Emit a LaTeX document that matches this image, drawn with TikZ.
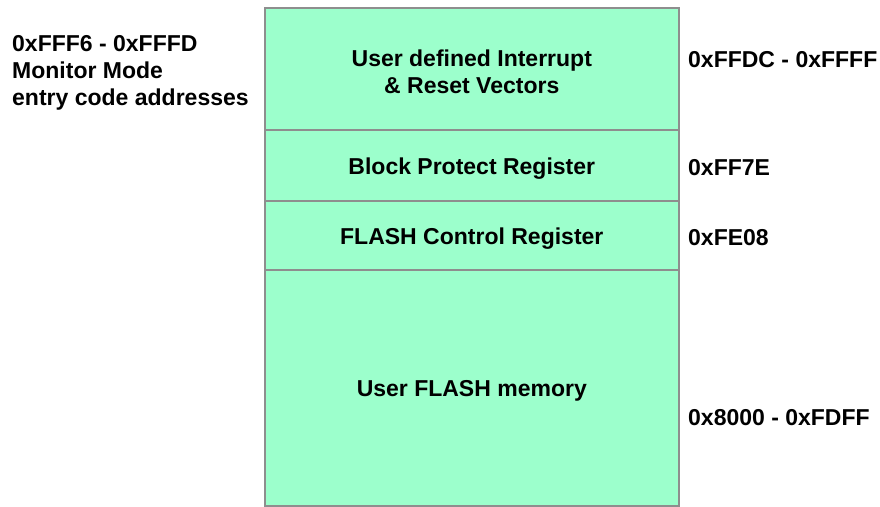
\documentclass[tikz,border=0pt]{standalone}
\usepackage{fontspec}
\setmainfont{Liberation Sans}
\definecolor{mint}{HTML}{9CFFCC}
\definecolor{edge}{HTML}{8E8E8E}
\begin{document}
\begin{tikzpicture}[x=1pt,y=-1pt,
  seg/.style={draw=edge,fill=mint,line width=1.6pt,rectangle,inner sep=0pt,minimum width=414pt,anchor=north west},
  segtxt/.style={align=center,inner sep=0pt,yshift=-3pt,font=\fontsize{23}{27.5}\selectfont\bfseries},
  lbl/.style={anchor=west,align=left,inner sep=0pt,font=\fontsize{23}{27}\selectfont\bfseries}]
\useasboundingbox (0,0) rectangle (880,506);
\node[seg,minimum height=122pt] (r1) at (264,7) {};
\node[seg,minimum height=71pt] (r2) at (264,129) {};
\node[seg,minimum height=69pt] (r3) at (264,200) {};
\node[seg,minimum height=236pt] (r4) at (264,269) {};
\node[segtxt] (t1) at (r1.center) {User defined Interrupt\\\& Reset Vectors};
\node[segtxt] (t2) at (r2.center) {Block Protect Register};
\node[segtxt] (t3) at (r3.center) {FLASH Control Register};
\node[segtxt] (t4) at (r4.center) {User FLASH memory};
\node[lbl] (a1) at (688,60) {0xFFDC - 0xFFFF};
\node[lbl] (a2) at (688,168) {0xFF7E};
\node[lbl] (a3) at (688,238) {0xFE08};
\node[lbl] (a4) at (688,418) {0x8000 - 0xFDFF};
\node[lbl] (m) at (12,73) {0xFFF6 - 0xFFFD\\Monitor Mode\\entry code addresses};
\end{tikzpicture}
\end{document}
